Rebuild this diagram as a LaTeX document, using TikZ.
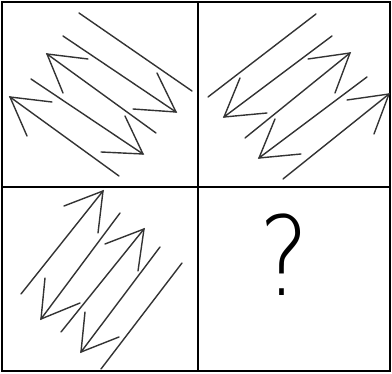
\documentclass[tikz,border=0pt]{standalone}
\usepackage{fontspec}
\newfontfamily\qfont{DejaVu Sans ExtraLight}
\begin{document}
\begin{tikzpicture}[x=1pt,y=-1pt,
  stroke/.style={draw=black!80,line width=1.4pt,line cap=round,line join=miter},
  frame/.style={draw=black,line width=2.4pt}]
\useasboundingbox (0,0) rectangle (392,374);
\fill[white] (0,0) rectangle (392,374);
% grid
\draw[frame] (2,2) rectangle (390,371);
\draw[frame] (198,2) -- (198,371);
\draw[frame] (2,187) -- (390,187);
% panel 1
\draw[stroke] (79,13) -- (192,91);
\draw[stroke] (63,36) -- (176,112);
\draw[stroke] (157,73) -- (176,112) -- (133,109);
\draw[stroke] (156,133) -- (47,54);
\draw[stroke] (88,59) -- (47,54) -- (63,93);
\draw[stroke] (31,79) -- (143,154);
\draw[stroke] (125,116) -- (143,154) -- (101,152);
\draw[stroke] (119,176) -- (10,97);
\draw[stroke] (52,102) -- (10,97) -- (27,136);
% panel 2
\draw[stroke] (316,14) -- (208,97);
\draw[stroke] (332,36) -- (224,117);
\draw[stroke] (240,78) -- (224,117) -- (267,113);
\draw[stroke] (245,138) -- (350,53);
\draw[stroke] (308,59) -- (350,53) -- (335,93);
\draw[stroke] (367,77) -- (259,158);
\draw[stroke] (275,119) -- (259,158) -- (301,154);
\draw[stroke] (283,179) -- (389,94);
\draw[stroke] (347,100) -- (389,94) -- (374,134);
% panel 3
\draw[stroke] (21,294) -- (103,191);
\draw[stroke] (64,206) -- (103,191) -- (98,233);
\draw[stroke] (120,213) -- (41,319);
\draw[stroke] (45,278) -- (41,319) -- (80,303);
\draw[stroke] (61,332) -- (144,229);
\draw[stroke] (105,244) -- (144,229) -- (138,271);
\draw[stroke] (160,247) -- (81,352);
\draw[stroke] (85,312) -- (81,352) -- (119,337);
\draw[stroke] (182,263) -- (101,369);
% panel 4
\node[inner sep=0pt,xscale=0.85,font=\qfont\fontsize{110}{110}\selectfont] (q) at (284,255) {?};
\end{tikzpicture}
\end{document}
